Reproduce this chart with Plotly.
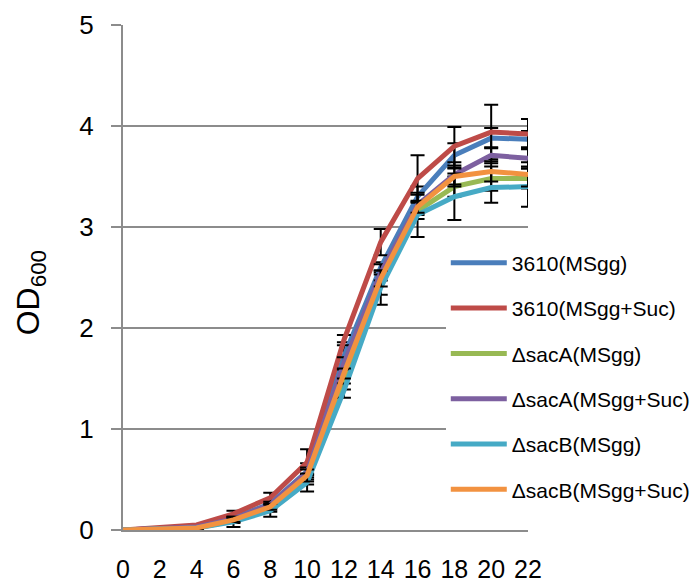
import plotly.graph_objects as go

hours = [0, 2, 4, 6, 8, 10, 12, 14, 16, 18, 20, 22]
x_tick_labels = ["0", "2", "4", "6", "8", "10", "12", "14", "16", "18", "20", "22"]
minor_ticks = [1, 3, 5, 7, 9, 11, 13, 15, 17, 19, 21, 22]
y_title = "OD<sub>600</sub>"

names = ["3610(MSgg)", "3610(MSgg+Suc)", "\u0394sacA(MSgg)",
         "\u0394sacA(MSgg+Suc)", "\u0394sacB(MSgg)", "\u0394sacB(MSgg+Suc)"]

wt_msgg = [0.00, 0.01, 0.03, 0.12, 0.26, 0.58, 1.72, 2.60, 3.30, 3.71, 3.88, 3.87]
wt_suc = [0.00, 0.02, 0.05, 0.16, 0.32, 0.67, 1.88, 2.85, 3.48, 3.80, 3.94, 3.92]
saca_msgg = [0.00, 0.01, 0.02, 0.09, 0.21, 0.50, 1.45, 2.43, 3.16, 3.40, 3.48, 3.48]
saca_suc = [0.00, 0.01, 0.03, 0.11, 0.25, 0.57, 1.65, 2.55, 3.22, 3.52, 3.71, 3.68]
sacb_msgg = [0.00, 0.01, 0.02, 0.08, 0.19, 0.47, 1.38, 2.40, 3.12, 3.30, 3.39, 3.40]
sacb_suc = [0.00, 0.01, 0.02, 0.10, 0.23, 0.54, 1.55, 2.49, 3.20, 3.50, 3.55, 3.52]

wt_msgg_err = [0, 0.005, 0.01, 0.02, 0.04, 0.08, 0.14, 0.05, 0.10, 0.12, 0.10, 0.08]
wt_suc_err = [0, 0.005, 0.01, 0.03, 0.05, 0.13, 0.05, 0.13, 0.23, 0.19, 0.27, 0.15]
saca_msgg_err = [0, 0.005, 0.01, 0.02, 0.03, 0.05, 0.06, 0.10, 0.08, 0.10, 0.12, 0.10]
saca_suc_err = [0, 0.005, 0.01, 0.02, 0.03, 0.05, 0.06, 0.08, 0.10, 0.12, 0.08, 0.10]
sacb_msgg_err = [0, 0.005, 0.01, 0.05, 0.06, 0.09, 0.07, 0.17, 0.22, 0.23, 0.15, 0.20]
sacb_suc_err = [0, 0.005, 0.01, 0.02, 0.03, 0.06, 0.05, 0.08, 0.06, 0.08, 0.10, 0.12]

series = [wt_msgg, wt_suc, saca_msgg, saca_suc, sacb_msgg, sacb_suc]
errors = [wt_msgg_err, wt_suc_err, saca_msgg_err, saca_suc_err, sacb_msgg_err, sacb_suc_err]
colors = ["#4A7EBB", "#BE4B48", "#98B954", "#7D60A0", "#46AAC5", "#F29240"]

FONT = "Liberation Sans, Arial, sans-serif"
GRID = "#8c8c8c"

fig = go.Figure()
for i, (nm, ys, er, c) in enumerate(zip(names, series, errors, colors)):
    fig.add_trace(go.Scatter(
        x=hours, y=ys, name=nm, mode="lines",
        line=dict(color=c, width=5),
        legendgroup=f"g{i}",
        error_y=dict(type="data", array=er, visible=True,
                     color="black", thickness=2, width=7),
    ))

# the page body adds an 8px offset; margins compensate for it
fig.update_layout(
    width=698, height=585,
    margin=dict(l=115, r=178, t=17, b=63, autoexpand=False),
    paper_bgcolor="white", plot_bgcolor="white",
    font=dict(family=FONT, color="black"),
    showlegend=True,
    legend=dict(
        x=0.797, y=0.569, xanchor="left", yanchor="top",
        bgcolor="white", borderwidth=0,
        font=dict(size=21, family=FONT, color="black"),
        tracegroupgap=15,
        itemwidth=56,
    ),
    xaxis=dict(
        range=[0, 22], tickvals=hours, ticktext=x_tick_labels,
        ticks="", showgrid=False, zeroline=False, automargin=False,
        showline=True, linecolor=GRID, linewidth=2,
        tickfont=dict(size=25, family=FONT, color="black"),
        ticklabelstandoff=16,
    ),
    xaxis2=dict(
        range=[0, 22], overlaying="x", anchor="y", side="bottom",
        tickvals=minor_ticks, ticks="outside", ticklen=7, tickwidth=2,
        tickcolor=GRID, showticklabels=False, showgrid=False,
        zeroline=False, showline=False, automargin=False,
    ),
    yaxis=dict(
        range=[0, 5], tickvals=[0, 1, 2, 3, 4, 5], automargin=False,
        ticks="outside", ticklen=10, tickwidth=2, tickcolor=GRID,
        showgrid=True, gridcolor=GRID, gridwidth=2,
        zeroline=False, showline=True, linecolor=GRID, linewidth=2,
        tickfont=dict(size=26, family=FONT, color="black"),
        ticklabelstandoff=12,
    ),
    annotations=[dict(
        text=y_title, textangle=-90, showarrow=False,
        xref="paper", yref="paper", x=-0.228, y=0.47,
        xanchor="center", yanchor="middle",
        font=dict(size=32, family=FONT, color="black"),
    )],
)

fig.write_html("out.html")
